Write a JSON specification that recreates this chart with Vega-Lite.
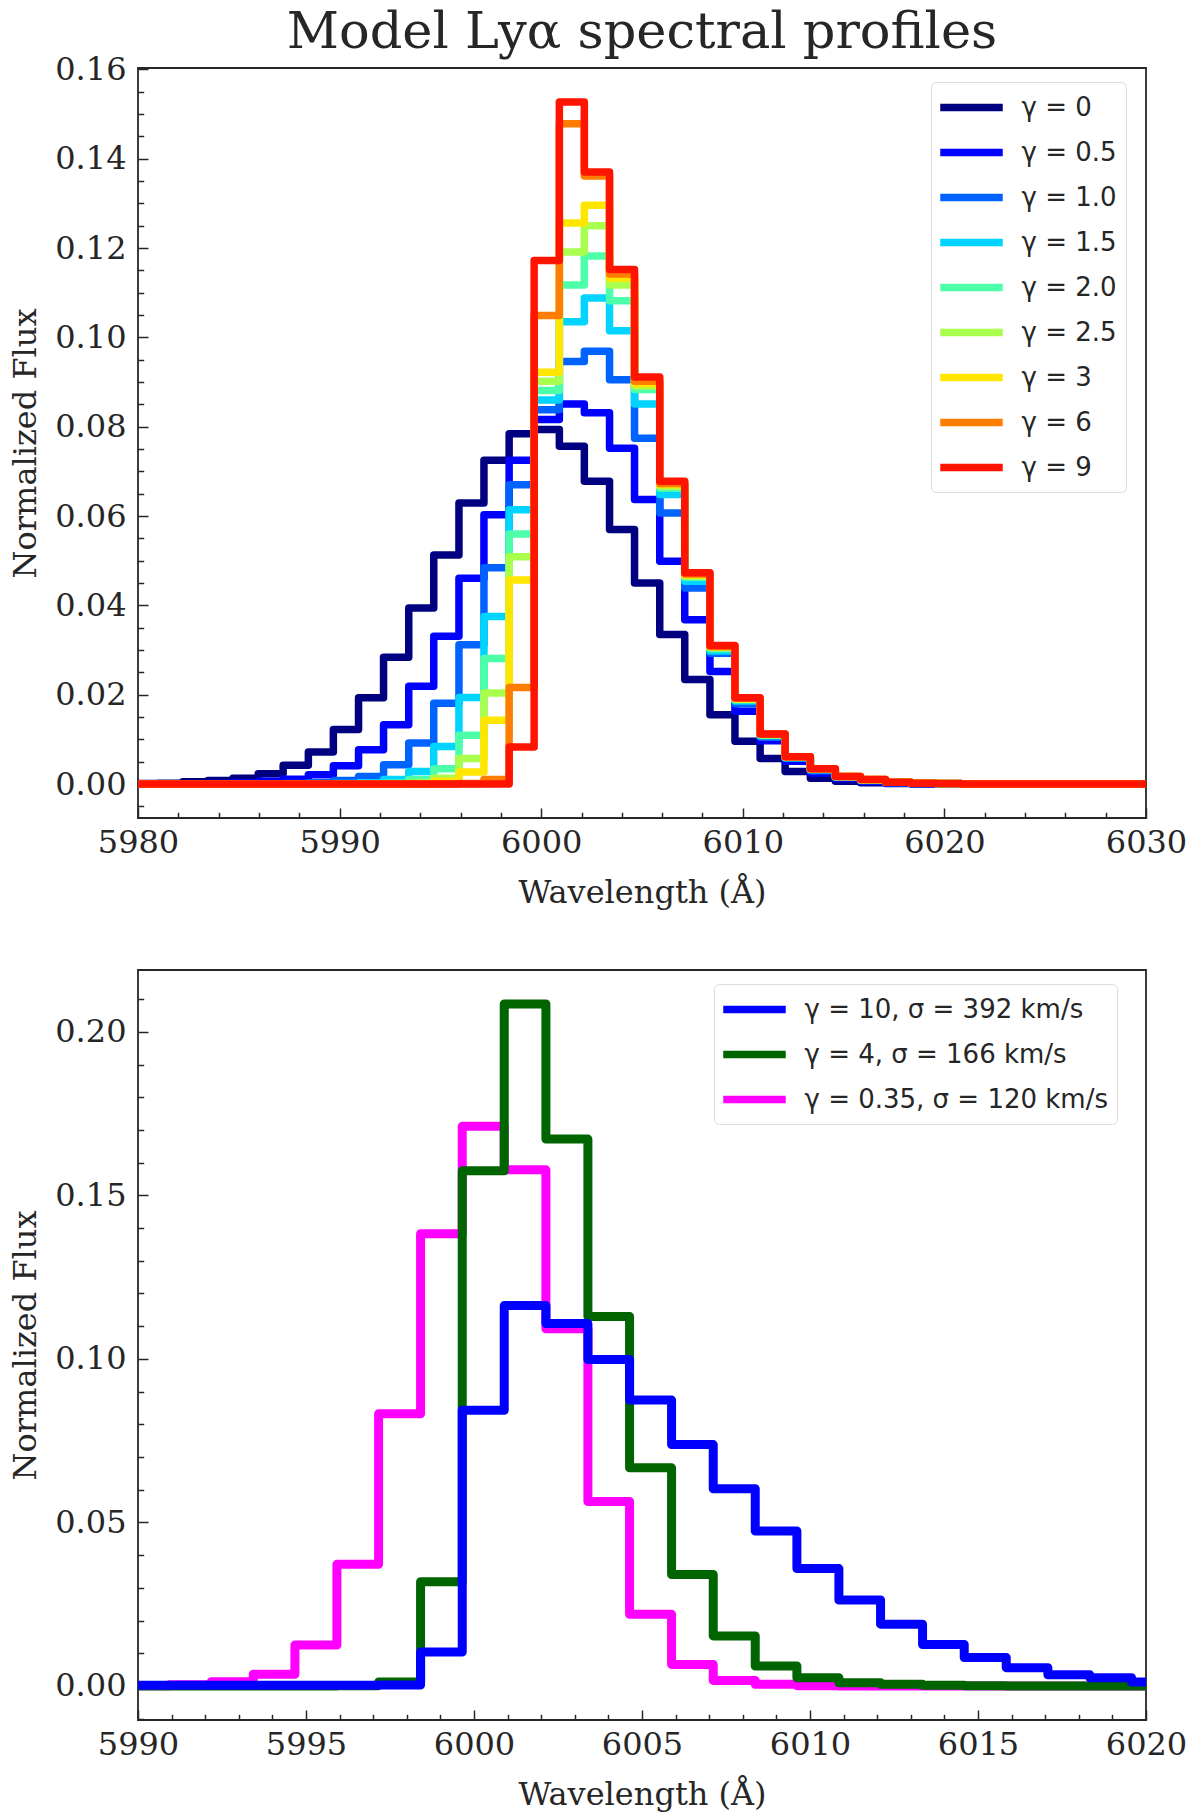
{
  "$schema": "https://vega.github.io/schema/vega-lite/v6.json",
  "background": "white",
  "padding": {"left": 8, "top": 6, "right": 5, "bottom": 5},
  "config": {
    "view": {"stroke": "#262626", "strokeWidth": 1.8},
    "font": "DejaVu Serif",
    "axis": {
      "domain": false,
      "grid": false,
      "tickColor": "#262626",
      "tickWidth": 1.5,
      "labelFont": "DejaVu Serif",
      "labelFontSize": 32,
      "labelColor": "#262626",
      "labelFlush": false,
      "labelOverlap": false,
      "titleFont": "DejaVu Serif",
      "titleFontSize": 32,
      "titleFontWeight": "normal",
      "titleColor": "#262626"
    },
    "legend": {
      "orient": "none",
      "title": null,
      "symbolType": "M-2.5,0L2.5,0",
      "symbolSize": 625,
      "symbolOffset": 15,
      "symbolStrokeWidth": 7.5,
      "labelFont": "DejaVu Sans",
      "labelFontSize": 26,
      "labelColor": "#262626",
      "labelOffset": 33.5,
      "labelLimit": 500,
      "rowPadding": 13,
      "padding": 9,
      "strokeColor": "#dcdcdc",
      "fillColor": "white",
      "cornerRadius": 5
    }
  },
  "datasets": {
    "top": [
      {"series": "γ = 0", "wl": 5979.73, "flux": 0.0001},
      {"series": "γ = 0", "wl": 5980.98, "flux": 0.0002},
      {"series": "γ = 0", "wl": 5982.22, "flux": 0.0005},
      {"series": "γ = 0", "wl": 5983.47, "flux": 0.0008},
      {"series": "γ = 0", "wl": 5984.71, "flux": 0.0013},
      {"series": "γ = 0", "wl": 5985.96, "flux": 0.0023},
      {"series": "γ = 0", "wl": 5987.2, "flux": 0.0042},
      {"series": "γ = 0", "wl": 5988.45, "flux": 0.0072},
      {"series": "γ = 0", "wl": 5989.69, "flux": 0.0122},
      {"series": "γ = 0", "wl": 5990.94, "flux": 0.0193},
      {"series": "γ = 0", "wl": 5992.18, "flux": 0.0284},
      {"series": "γ = 0", "wl": 5993.43, "flux": 0.0394},
      {"series": "γ = 0", "wl": 5994.67, "flux": 0.0513},
      {"series": "γ = 0", "wl": 5995.92, "flux": 0.0629},
      {"series": "γ = 0", "wl": 5997.16, "flux": 0.0725},
      {"series": "γ = 0", "wl": 5998.41, "flux": 0.0784},
      {"series": "γ = 0", "wl": 5999.65, "flux": 0.0794},
      {"series": "γ = 0", "wl": 6000.9, "flux": 0.0756},
      {"series": "γ = 0", "wl": 6002.14, "flux": 0.0678},
      {"series": "γ = 0", "wl": 6003.39, "flux": 0.057},
      {"series": "γ = 0", "wl": 6004.63, "flux": 0.045},
      {"series": "γ = 0", "wl": 6005.88, "flux": 0.0335},
      {"series": "γ = 0", "wl": 6007.12, "flux": 0.0234},
      {"series": "γ = 0", "wl": 6008.37, "flux": 0.0155},
      {"series": "γ = 0", "wl": 6009.61, "flux": 0.0096},
      {"series": "γ = 0", "wl": 6010.86, "flux": 0.0057},
      {"series": "γ = 0", "wl": 6012.1, "flux": 0.0028},
      {"series": "γ = 0", "wl": 6013.35, "flux": 0.0013},
      {"series": "γ = 0", "wl": 6014.59, "flux": 0.0006},
      {"series": "γ = 0", "wl": 6015.84, "flux": 0.0003},
      {"series": "γ = 0", "wl": 6017.08, "flux": 0.0001},
      {"series": "γ = 0", "wl": 6018.33, "flux": 0},
      {"series": "γ = 0", "wl": 6030.78, "flux": 0},

      {"series": "γ = 0.5", "wl": 5979.73, "flux": 0},
      {"series": "γ = 0.5", "wl": 5983.47, "flux": 0.0001},
      {"series": "γ = 0.5", "wl": 5984.71, "flux": 0.0003},
      {"series": "γ = 0.5", "wl": 5985.96, "flux": 0.0006},
      {"series": "γ = 0.5", "wl": 5987.2, "flux": 0.0011},
      {"series": "γ = 0.5", "wl": 5988.45, "flux": 0.0021},
      {"series": "γ = 0.5", "wl": 5989.69, "flux": 0.0041},
      {"series": "γ = 0.5", "wl": 5990.94, "flux": 0.0077},
      {"series": "γ = 0.5", "wl": 5992.18, "flux": 0.0133},
      {"series": "γ = 0.5", "wl": 5993.43, "flux": 0.0219},
      {"series": "γ = 0.5", "wl": 5994.67, "flux": 0.0331},
      {"series": "γ = 0.5", "wl": 5995.92, "flux": 0.0461},
      {"series": "γ = 0.5", "wl": 5997.16, "flux": 0.0603},
      {"series": "γ = 0.5", "wl": 5998.41, "flux": 0.0725},
      {"series": "γ = 0.5", "wl": 5999.65, "flux": 0.0816},
      {"series": "γ = 0.5", "wl": 6000.9, "flux": 0.0851},
      {"series": "γ = 0.5", "wl": 6002.14, "flux": 0.0831},
      {"series": "γ = 0.5", "wl": 6003.39, "flux": 0.0752},
      {"series": "γ = 0.5", "wl": 6004.63, "flux": 0.0637},
      {"series": "γ = 0.5", "wl": 6005.88, "flux": 0.0499},
      {"series": "γ = 0.5", "wl": 6007.12, "flux": 0.0368},
      {"series": "γ = 0.5", "wl": 6008.37, "flux": 0.0252},
      {"series": "γ = 0.5", "wl": 6009.61, "flux": 0.0163},
      {"series": "γ = 0.5", "wl": 6010.86, "flux": 0.0097},
      {"series": "γ = 0.5", "wl": 6012.1, "flux": 0.0051},
      {"series": "γ = 0.5", "wl": 6013.35, "flux": 0.0025},
      {"series": "γ = 0.5", "wl": 6014.59, "flux": 0.0012},
      {"series": "γ = 0.5", "wl": 6015.84, "flux": 0.0005},
      {"series": "γ = 0.5", "wl": 6017.08, "flux": 0.0002},
      {"series": "γ = 0.5", "wl": 6018.33, "flux": 0.0001},
      {"series": "γ = 0.5", "wl": 6019.57, "flux": 0},
      {"series": "γ = 0.5", "wl": 6030.78, "flux": 0},

      {"series": "γ = 1.0", "wl": 5979.73, "flux": 0},
      {"series": "γ = 1.0", "wl": 5987.2, "flux": 0.0001},
      {"series": "γ = 1.0", "wl": 5988.45, "flux": 0.0003},
      {"series": "γ = 1.0", "wl": 5989.69, "flux": 0.0008},
      {"series": "γ = 1.0", "wl": 5990.94, "flux": 0.0017},
      {"series": "γ = 1.0", "wl": 5992.18, "flux": 0.0043},
      {"series": "γ = 1.0", "wl": 5993.43, "flux": 0.0092},
      {"series": "γ = 1.0", "wl": 5994.67, "flux": 0.0181},
      {"series": "γ = 1.0", "wl": 5995.92, "flux": 0.0312},
      {"series": "γ = 1.0", "wl": 5997.16, "flux": 0.0484},
      {"series": "γ = 1.0", "wl": 5998.41, "flux": 0.067},
      {"series": "γ = 1.0", "wl": 5999.65, "flux": 0.0838},
      {"series": "γ = 1.0", "wl": 6000.9, "flux": 0.0946},
      {"series": "γ = 1.0", "wl": 6002.14, "flux": 0.0969},
      {"series": "γ = 1.0", "wl": 6003.39, "flux": 0.0905},
      {"series": "γ = 1.0", "wl": 6004.63, "flux": 0.0774},
      {"series": "γ = 1.0", "wl": 6005.88, "flux": 0.0607},
      {"series": "γ = 1.0", "wl": 6007.12, "flux": 0.0439},
      {"series": "γ = 1.0", "wl": 6008.37, "flux": 0.0293},
      {"series": "γ = 1.0", "wl": 6009.61, "flux": 0.018},
      {"series": "γ = 1.0", "wl": 6010.86, "flux": 0.0105},
      {"series": "γ = 1.0", "wl": 6012.1, "flux": 0.0058},
      {"series": "γ = 1.0", "wl": 6013.35, "flux": 0.003},
      {"series": "γ = 1.0", "wl": 6014.59, "flux": 0.0015},
      {"series": "γ = 1.0", "wl": 6015.84, "flux": 0.0008},
      {"series": "γ = 1.0", "wl": 6017.08, "flux": 0.0003},
      {"series": "γ = 1.0", "wl": 6018.33, "flux": 0.0001},
      {"series": "γ = 1.0", "wl": 6019.57, "flux": 0},
      {"series": "γ = 1.0", "wl": 6030.78, "flux": 0},

      {"series": "γ = 1.5", "wl": 5979.73, "flux": 0},
      {"series": "γ = 1.5", "wl": 5989.69, "flux": 0.0001},
      {"series": "γ = 1.5", "wl": 5990.94, "flux": 0.0003},
      {"series": "γ = 1.5", "wl": 5992.18, "flux": 0.001},
      {"series": "γ = 1.5", "wl": 5993.43, "flux": 0.0028},
      {"series": "γ = 1.5", "wl": 5994.67, "flux": 0.0084},
      {"series": "γ = 1.5", "wl": 5995.92, "flux": 0.0194},
      {"series": "γ = 1.5", "wl": 5997.16, "flux": 0.0375},
      {"series": "γ = 1.5", "wl": 5998.41, "flux": 0.0614},
      {"series": "γ = 1.5", "wl": 5999.65, "flux": 0.086},
      {"series": "γ = 1.5", "wl": 6000.9, "flux": 0.1035},
      {"series": "γ = 1.5", "wl": 6002.14, "flux": 0.1088},
      {"series": "γ = 1.5", "wl": 6003.39, "flux": 0.1015},
      {"series": "γ = 1.5", "wl": 6004.63, "flux": 0.0851},
      {"series": "γ = 1.5", "wl": 6005.88, "flux": 0.0648},
      {"series": "γ = 1.5", "wl": 6007.12, "flux": 0.0454},
      {"series": "γ = 1.5", "wl": 6008.37, "flux": 0.0298},
      {"series": "γ = 1.5", "wl": 6009.61, "flux": 0.0186},
      {"series": "γ = 1.5", "wl": 6010.86, "flux": 0.0108},
      {"series": "γ = 1.5", "wl": 6012.1, "flux": 0.0059},
      {"series": "γ = 1.5", "wl": 6013.35, "flux": 0.0032},
      {"series": "γ = 1.5", "wl": 6014.59, "flux": 0.0016},
      {"series": "γ = 1.5", "wl": 6015.84, "flux": 0.0009},
      {"series": "γ = 1.5", "wl": 6017.08, "flux": 0.0004},
      {"series": "γ = 1.5", "wl": 6018.33, "flux": 0.0002},
      {"series": "γ = 1.5", "wl": 6019.57, "flux": 0.0001},
      {"series": "γ = 1.5", "wl": 6020.82, "flux": 0},
      {"series": "γ = 1.5", "wl": 6030.78, "flux": 0},

      {"series": "γ = 2.0", "wl": 5979.73, "flux": 0},
      {"series": "γ = 2.0", "wl": 5992.18, "flux": 0.0002},
      {"series": "γ = 2.0", "wl": 5993.43, "flux": 0.001},
      {"series": "γ = 2.0", "wl": 5994.67, "flux": 0.0034},
      {"series": "γ = 2.0", "wl": 5995.92, "flux": 0.0109},
      {"series": "γ = 2.0", "wl": 5997.16, "flux": 0.0281},
      {"series": "γ = 2.0", "wl": 5998.41, "flux": 0.056},
      {"series": "γ = 2.0", "wl": 5999.65, "flux": 0.0881},
      {"series": "γ = 2.0", "wl": 6000.9, "flux": 0.1117},
      {"series": "γ = 2.0", "wl": 6002.14, "flux": 0.1182},
      {"series": "γ = 2.0", "wl": 6003.39, "flux": 0.1082},
      {"series": "γ = 2.0", "wl": 6004.63, "flux": 0.0883},
      {"series": "γ = 2.0", "wl": 6005.88, "flux": 0.0662},
      {"series": "γ = 2.0", "wl": 6007.12, "flux": 0.0463},
      {"series": "γ = 2.0", "wl": 6008.37, "flux": 0.0303},
      {"series": "γ = 2.0", "wl": 6009.61, "flux": 0.0189},
      {"series": "γ = 2.0", "wl": 6010.86, "flux": 0.011},
      {"series": "γ = 2.0", "wl": 6012.1, "flux": 0.006},
      {"series": "γ = 2.0", "wl": 6013.35, "flux": 0.0033},
      {"series": "γ = 2.0", "wl": 6014.59, "flux": 0.0016},
      {"series": "γ = 2.0", "wl": 6015.84, "flux": 0.0009},
      {"series": "γ = 2.0", "wl": 6017.08, "flux": 0.0004},
      {"series": "γ = 2.0", "wl": 6018.33, "flux": 0.0002},
      {"series": "γ = 2.0", "wl": 6019.57, "flux": 0.0001},
      {"series": "γ = 2.0", "wl": 6020.82, "flux": 0},
      {"series": "γ = 2.0", "wl": 6030.78, "flux": 0},

      {"series": "γ = 2.5", "wl": 5979.73, "flux": 0},
      {"series": "γ = 2.5", "wl": 5993.43, "flux": 0.0002},
      {"series": "γ = 2.5", "wl": 5994.67, "flux": 0.0013},
      {"series": "γ = 2.5", "wl": 5995.92, "flux": 0.0057},
      {"series": "γ = 2.5", "wl": 5997.16, "flux": 0.0204},
      {"series": "γ = 2.5", "wl": 5998.41, "flux": 0.0509},
      {"series": "γ = 2.5", "wl": 5999.65, "flux": 0.0902},
      {"series": "γ = 2.5", "wl": 6000.9, "flux": 0.1191},
      {"series": "γ = 2.5", "wl": 6002.14, "flux": 0.125},
      {"series": "γ = 2.5", "wl": 6003.39, "flux": 0.1117},
      {"series": "γ = 2.5", "wl": 6004.63, "flux": 0.0891},
      {"series": "γ = 2.5", "wl": 6005.88, "flux": 0.0667},
      {"series": "γ = 2.5", "wl": 6007.12, "flux": 0.0466},
      {"series": "γ = 2.5", "wl": 6008.37, "flux": 0.0306},
      {"series": "γ = 2.5", "wl": 6009.61, "flux": 0.019},
      {"series": "γ = 2.5", "wl": 6010.86, "flux": 0.0111},
      {"series": "γ = 2.5", "wl": 6012.1, "flux": 0.006},
      {"series": "γ = 2.5", "wl": 6013.35, "flux": 0.0033},
      {"series": "γ = 2.5", "wl": 6014.59, "flux": 0.0017},
      {"series": "γ = 2.5", "wl": 6015.84, "flux": 0.0009},
      {"series": "γ = 2.5", "wl": 6017.08, "flux": 0.0004},
      {"series": "γ = 2.5", "wl": 6018.33, "flux": 0.0002},
      {"series": "γ = 2.5", "wl": 6019.57, "flux": 0.0001},
      {"series": "γ = 2.5", "wl": 6020.82, "flux": 0},
      {"series": "γ = 2.5", "wl": 6030.78, "flux": 0},

      {"series": "γ = 3", "wl": 5979.73, "flux": 0},
      {"series": "γ = 3", "wl": 5993.43, "flux": 0.0001},
      {"series": "γ = 3", "wl": 5994.67, "flux": 0.0006},
      {"series": "γ = 3", "wl": 5995.92, "flux": 0.0027},
      {"series": "γ = 3", "wl": 5997.16, "flux": 0.0143},
      {"series": "γ = 3", "wl": 5998.41, "flux": 0.0457},
      {"series": "γ = 3", "wl": 5999.65, "flux": 0.0922},
      {"series": "γ = 3", "wl": 6000.9, "flux": 0.1256},
      {"series": "γ = 3", "wl": 6002.14, "flux": 0.1296},
      {"series": "γ = 3", "wl": 6003.39, "flux": 0.1133},
      {"series": "γ = 3", "wl": 6004.63, "flux": 0.0896},
      {"series": "γ = 3", "wl": 6005.88, "flux": 0.067},
      {"series": "γ = 3", "wl": 6007.12, "flux": 0.0468},
      {"series": "γ = 3", "wl": 6008.37, "flux": 0.0307},
      {"series": "γ = 3", "wl": 6009.61, "flux": 0.0191},
      {"series": "γ = 3", "wl": 6010.86, "flux": 0.0111},
      {"series": "γ = 3", "wl": 6012.1, "flux": 0.0061},
      {"series": "γ = 3", "wl": 6013.35, "flux": 0.0033},
      {"series": "γ = 3", "wl": 6014.59, "flux": 0.0017},
      {"series": "γ = 3", "wl": 6015.84, "flux": 0.001},
      {"series": "γ = 3", "wl": 6017.08, "flux": 0.0004},
      {"series": "γ = 3", "wl": 6018.33, "flux": 0.0002},
      {"series": "γ = 3", "wl": 6019.57, "flux": 0.0001},
      {"series": "γ = 3", "wl": 6020.82, "flux": 0},
      {"series": "γ = 3", "wl": 6030.78, "flux": 0},

      {"series": "γ = 6", "wl": 5979.73, "flux": 0},
      {"series": "γ = 6", "wl": 5995.92, "flux": 0.0001},
      {"series": "γ = 6", "wl": 5997.16, "flux": 0.001},
      {"series": "γ = 6", "wl": 5998.41, "flux": 0.0216},
      {"series": "γ = 6", "wl": 5999.65, "flux": 0.1049},
      {"series": "γ = 6", "wl": 6000.9, "flux": 0.1478},
      {"series": "γ = 6", "wl": 6002.14, "flux": 0.1361},
      {"series": "γ = 6", "wl": 6003.39, "flux": 0.1142},
      {"series": "γ = 6", "wl": 6004.63, "flux": 0.0902},
      {"series": "γ = 6", "wl": 6005.88, "flux": 0.0673},
      {"series": "γ = 6", "wl": 6007.12, "flux": 0.047},
      {"series": "γ = 6", "wl": 6008.37, "flux": 0.0308},
      {"series": "γ = 6", "wl": 6009.61, "flux": 0.0192},
      {"series": "γ = 6", "wl": 6010.86, "flux": 0.0112},
      {"series": "γ = 6", "wl": 6012.1, "flux": 0.0061},
      {"series": "γ = 6", "wl": 6013.35, "flux": 0.0034},
      {"series": "γ = 6", "wl": 6014.59, "flux": 0.0017},
      {"series": "γ = 6", "wl": 6015.84, "flux": 0.001},
      {"series": "γ = 6", "wl": 6017.08, "flux": 0.0004},
      {"series": "γ = 6", "wl": 6018.33, "flux": 0.0002},
      {"series": "γ = 6", "wl": 6019.57, "flux": 0.0001},
      {"series": "γ = 6", "wl": 6020.82, "flux": 0},
      {"series": "γ = 6", "wl": 6030.78, "flux": 0},

      {"series": "γ = 9", "wl": 5979.73, "flux": 0},
      {"series": "γ = 9", "wl": 5998.41, "flux": 0.0083},
      {"series": "γ = 9", "wl": 5999.65, "flux": 0.1172},
      {"series": "γ = 9", "wl": 6000.9, "flux": 0.1527},
      {"series": "γ = 9", "wl": 6002.14, "flux": 0.137},
      {"series": "γ = 9", "wl": 6003.39, "flux": 0.1152},
      {"series": "γ = 9", "wl": 6004.63, "flux": 0.0911},
      {"series": "γ = 9", "wl": 6005.88, "flux": 0.0678},
      {"series": "γ = 9", "wl": 6007.12, "flux": 0.0473},
      {"series": "γ = 9", "wl": 6008.37, "flux": 0.031},
      {"series": "γ = 9", "wl": 6009.61, "flux": 0.0193},
      {"series": "γ = 9", "wl": 6010.86, "flux": 0.0112},
      {"series": "γ = 9", "wl": 6012.1, "flux": 0.0061},
      {"series": "γ = 9", "wl": 6013.35, "flux": 0.0034},
      {"series": "γ = 9", "wl": 6014.59, "flux": 0.0017},
      {"series": "γ = 9", "wl": 6015.84, "flux": 0.001},
      {"series": "γ = 9", "wl": 6017.08, "flux": 0.0004},
      {"series": "γ = 9", "wl": 6018.33, "flux": 0.0002},
      {"series": "γ = 9", "wl": 6019.57, "flux": 0.0001},
      {"series": "γ = 9", "wl": 6020.82, "flux": 0},
      {"series": "γ = 9", "wl": 6030.78, "flux": 0}
    ],
    "bottom": [
      {"series": "γ = 0.35, σ = 120 km/s", "wl": 5989.69, "flux": 0.0001},
      {"series": "γ = 0.35, σ = 120 km/s", "wl": 5990.94, "flux": 0.0004},
      {"series": "γ = 0.35, σ = 120 km/s", "wl": 5992.18, "flux": 0.0013},
      {"series": "γ = 0.35, σ = 120 km/s", "wl": 5993.43, "flux": 0.0036},
      {"series": "γ = 0.35, σ = 120 km/s", "wl": 5994.67, "flux": 0.0125},
      {"series": "γ = 0.35, σ = 120 km/s", "wl": 5995.92, "flux": 0.0372},
      {"series": "γ = 0.35, σ = 120 km/s", "wl": 5997.16, "flux": 0.0832},
      {"series": "γ = 0.35, σ = 120 km/s", "wl": 5998.41, "flux": 0.1383},
      {"series": "γ = 0.35, σ = 120 km/s", "wl": 5999.65, "flux": 0.1711},
      {"series": "γ = 0.35, σ = 120 km/s", "wl": 6000.9, "flux": 0.1578},
      {"series": "γ = 0.35, σ = 120 km/s", "wl": 6002.14, "flux": 0.1092},
      {"series": "γ = 0.35, σ = 120 km/s", "wl": 6003.39, "flux": 0.0564},
      {"series": "γ = 0.35, σ = 120 km/s", "wl": 6004.63, "flux": 0.0219},
      {"series": "γ = 0.35, σ = 120 km/s", "wl": 6005.88, "flux": 0.0066},
      {"series": "γ = 0.35, σ = 120 km/s", "wl": 6007.12, "flux": 0.0017},
      {"series": "γ = 0.35, σ = 120 km/s", "wl": 6008.37, "flux": 0.0005},
      {"series": "γ = 0.35, σ = 120 km/s", "wl": 6009.61, "flux": 0.0001},
      {"series": "γ = 0.35, σ = 120 km/s", "wl": 6010.86, "flux": 0},
      {"series": "γ = 0.35, σ = 120 km/s", "wl": 6022.06, "flux": 0},

      {"series": "γ = 4, σ = 166 km/s", "wl": 5989.69, "flux": 0},
      {"series": "γ = 4, σ = 166 km/s", "wl": 5995.92, "flux": 0.0001},
      {"series": "γ = 4, σ = 166 km/s", "wl": 5997.16, "flux": 0.0012},
      {"series": "γ = 4, σ = 166 km/s", "wl": 5998.41, "flux": 0.0319},
      {"series": "γ = 4, σ = 166 km/s", "wl": 5999.65, "flux": 0.1575},
      {"series": "γ = 4, σ = 166 km/s", "wl": 6000.9, "flux": 0.2085},
      {"series": "γ = 4, σ = 166 km/s", "wl": 6002.14, "flux": 0.1672},
      {"series": "γ = 4, σ = 166 km/s", "wl": 6003.39, "flux": 0.113},
      {"series": "γ = 4, σ = 166 km/s", "wl": 6004.63, "flux": 0.0667},
      {"series": "γ = 4, σ = 166 km/s", "wl": 6005.88, "flux": 0.0341},
      {"series": "γ = 4, σ = 166 km/s", "wl": 6007.12, "flux": 0.0153},
      {"series": "γ = 4, σ = 166 km/s", "wl": 6008.37, "flux": 0.0061},
      {"series": "γ = 4, σ = 166 km/s", "wl": 6009.61, "flux": 0.0025},
      {"series": "γ = 4, σ = 166 km/s", "wl": 6010.86, "flux": 0.001},
      {"series": "γ = 4, σ = 166 km/s", "wl": 6012.1, "flux": 0.0005},
      {"series": "γ = 4, σ = 166 km/s", "wl": 6013.35, "flux": 0.0002},
      {"series": "γ = 4, σ = 166 km/s", "wl": 6014.59, "flux": 0.0001},
      {"series": "γ = 4, σ = 166 km/s", "wl": 6015.84, "flux": 0},
      {"series": "γ = 4, σ = 166 km/s", "wl": 6022.06, "flux": 0},

      {"series": "γ = 10, σ = 392 km/s", "wl": 5989.69, "flux": 0.0002},
      {"series": "γ = 10, σ = 392 km/s", "wl": 5997.16, "flux": 0.0003},
      {"series": "γ = 10, σ = 392 km/s", "wl": 5998.41, "flux": 0.0104},
      {"series": "γ = 10, σ = 392 km/s", "wl": 5999.65, "flux": 0.0843},
      {"series": "γ = 10, σ = 392 km/s", "wl": 6000.9, "flux": 0.1163},
      {"series": "γ = 10, σ = 392 km/s", "wl": 6002.14, "flux": 0.1108},
      {"series": "γ = 10, σ = 392 km/s", "wl": 6003.39, "flux": 0.0998},
      {"series": "γ = 10, σ = 392 km/s", "wl": 6004.63, "flux": 0.0874},
      {"series": "γ = 10, σ = 392 km/s", "wl": 6005.88, "flux": 0.0738},
      {"series": "γ = 10, σ = 392 km/s", "wl": 6007.12, "flux": 0.0603},
      {"series": "γ = 10, σ = 392 km/s", "wl": 6008.37, "flux": 0.0474},
      {"series": "γ = 10, σ = 392 km/s", "wl": 6009.61, "flux": 0.0359},
      {"series": "γ = 10, σ = 392 km/s", "wl": 6010.86, "flux": 0.0263},
      {"series": "γ = 10, σ = 392 km/s", "wl": 6012.1, "flux": 0.0189},
      {"series": "γ = 10, σ = 392 km/s", "wl": 6013.35, "flux": 0.0127},
      {"series": "γ = 10, σ = 392 km/s", "wl": 6014.59, "flux": 0.0087},
      {"series": "γ = 10, σ = 392 km/s", "wl": 6015.84, "flux": 0.0056},
      {"series": "γ = 10, σ = 392 km/s", "wl": 6017.08, "flux": 0.0034},
      {"series": "γ = 10, σ = 392 km/s", "wl": 6018.33, "flux": 0.0025},
      {"series": "γ = 10, σ = 392 km/s", "wl": 6019.57, "flux": 0.0012},
      {"series": "γ = 10, σ = 392 km/s", "wl": 6020.82, "flux": 0.0006},
      {"series": "γ = 10, σ = 392 km/s", "wl": 6022.06, "flux": 0.0006}
    ]
  },
  "resolve": {"scale": {"color": "independent"}, "legend": {"color": "independent"}},
  "spacing": 59,
  "vconcat": [
    {
      "title": {
        "text": "Model Lyα spectral profiles",
        "font": "DejaVu Serif",
        "fontSize": 51,
        "fontWeight": "normal",
        "color": "#262626",
        "anchor": "middle",
        "offset": -6
      },
      "width": 1008,
      "height": 750,
      "data": {"name": "top"},
      "mark": {"type": "line", "interpolate": "step-after", "strokeWidth": 7.5, "strokeJoin": "round", "clip": true},
      "encoding": {
        "x": {
          "field": "wl",
          "type": "quantitative",
          "scale": {"domain": [5980, 6030], "nice": false, "zero": false},
          "axis": {
            "title": "Wavelength (Å)",
            "values": [5980, 5982, 5984, 5986, 5988, 5990, 5992, 5994, 5996, 5998, 6000, 6002, 6004, 6006, 6008, 6010, 6012, 6014, 6016, 6018, 6020, 6022, 6024, 6026, 6028, 6030],
            "format": "d",
            "labelExpr": "datum.value % 10 === 0 ? datum.label : ''",
            "tickSize": {"condition": {"test": "datum.value % 10 === 0", "value": -10}, "value": -5.7},
            "labelPadding": 19,
            "titlePadding": 15
          }
        },
        "y": {
          "field": "flux",
          "type": "quantitative",
          "scale": {"domain": [-0.0076, 0.1603], "nice": false, "zero": false},
          "axis": {
            "title": "Normalized Flux",
            "values": [-0.005, 0, 0.005, 0.01, 0.015, 0.02, 0.025, 0.03, 0.035, 0.04, 0.045, 0.05, 0.055, 0.06, 0.065, 0.07, 0.075, 0.08, 0.085, 0.09, 0.095, 0.1, 0.105, 0.11, 0.115, 0.12, 0.125, 0.13, 0.135, 0.14, 0.145, 0.15, 0.155, 0.16],
            "format": ".2f",
            "labelExpr": "round(datum.value * 1000) % 20 === 0 ? datum.label : ''",
            "tickSize": {"condition": {"test": "round(datum.value * 1000) % 20 === 0", "value": -10}, "value": -5.7},
            "labelPadding": 22,
            "titlePadding": 12
          }
        },
        "color": {
          "field": "series",
          "type": "nominal",
          "scale": {
            "domain": ["γ = 0", "γ = 0.5", "γ = 1.0", "γ = 1.5", "γ = 2.0", "γ = 2.5", "γ = 3", "γ = 6", "γ = 9"],
            "range": ["#000080", "#0000ff", "#0063ff", "#00d4ff", "#4dffa9", "#a9ff4d", "#ffe600", "#ff7d00", "#ff1400"]
          },
          "legend": {"orient": "none", "legendX": 793, "legendY": 14}
        }
      }
    },
    {
      "width": 1008,
      "height": 750,
      "data": {"name": "bottom"},
      "mark": {"type": "line", "interpolate": "step-after", "strokeWidth": 9, "strokeJoin": "round", "clip": true},
      "encoding": {
        "x": {
          "field": "wl",
          "type": "quantitative",
          "scale": {"domain": [5990, 6020], "nice": false, "zero": false},
          "axis": {
            "title": "Wavelength (Å)",
            "values": [5990, 5991, 5992, 5993, 5994, 5995, 5996, 5997, 5998, 5999, 6000, 6001, 6002, 6003, 6004, 6005, 6006, 6007, 6008, 6009, 6010, 6011, 6012, 6013, 6014, 6015, 6016, 6017, 6018, 6019, 6020],
            "format": "d",
            "labelExpr": "datum.value % 5 === 0 ? datum.label : ''",
            "tickSize": {"condition": {"test": "datum.value % 5 === 0", "value": -10}, "value": -5.7},
            "labelPadding": 19,
            "titlePadding": 15
          }
        },
        "y": {
          "field": "flux",
          "type": "quantitative",
          "scale": {"domain": [-0.0104, 0.2189], "nice": false, "zero": false},
          "axis": {
            "title": "Normalized Flux",
            "values": [-0.01, 0, 0.01, 0.02, 0.03, 0.04, 0.05, 0.06, 0.07, 0.08, 0.09, 0.1, 0.11, 0.12, 0.13, 0.14, 0.15, 0.16, 0.17, 0.18, 0.19, 0.2, 0.21],
            "format": ".2f",
            "labelExpr": "round(datum.value * 100) % 5 === 0 ? datum.label : ''",
            "tickSize": {"condition": {"test": "round(datum.value * 100) % 5 === 0", "value": -10}, "value": -5.7},
            "labelPadding": 22,
            "titlePadding": 12
          }
        },
        "color": {
          "field": "series",
          "type": "nominal",
          "scale": {
            "domain": ["γ = 10, σ = 392 km/s", "γ = 4, σ = 166 km/s", "γ = 0.35, σ = 120 km/s"],
            "range": ["#0000ff", "#006400", "#ff00ff"]
          },
          "legend": {"orient": "none", "legendX": 576, "legendY": 14}
        }
      }
    }
  ]
}
